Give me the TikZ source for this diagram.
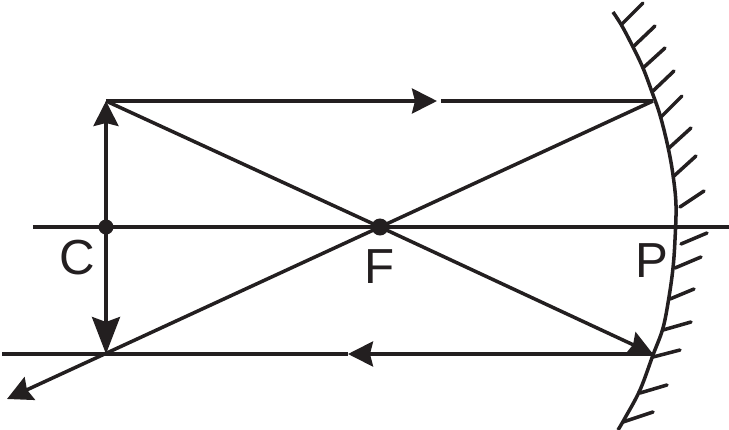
\documentclass[tikz,border=0pt]{standalone}
\usepackage{fontspec}
\setmainfont{Liberation Sans}
\usetikzlibrary{arrows.meta}
\definecolor{inkline}{RGB}{35,31,32}
\tikzset{every path/.style={inkline,line width=1pt},
  tipsmall/.style={-{Stealth[length=0.25cm,width=0.25cm,inset=0.03cm]}},
  tiplong/.style={-{Stealth[length=0.37cm,width=0.28cm,inset=0.05cm]}},
  dotnode/.style={circle,fill=inkline,draw=none,inner sep=0pt,minimum size=#1},
  letter/.style={inner sep=0pt,text=inkline,font=\fontsize{14}{14}\selectfont}}

\begin{document}
\begin{tikzpicture}[x=0.01cm,y=-0.01cm]
   \useasboundingbox (0,0) rectangle (729,430);
   \coordinate (axisl) at (33,227);
   \coordinate (axisr) at (729,227);
   \coordinate (a) at (106,101);
   \coordinate (b) at (106,354);
   \coordinate (r) at (653,101);
   \coordinate (s) at (653,354);
   \coordinate (topmid) at (437,101);
   \coordinate (topnext) at (441,101);
   \coordinate (lowmid) at (348,354);
   \coordinate (lowend) at (2,354);
   \coordinate (out) at (7,399);
   \node[dotnode=0.15cm] (c) at (106,227) {};
   \node[dotnode=0.17cm] (f) at (380,227) {};
   \node[letter] (lc) at (77,258) {C};
   \node[letter] (lf) at (380,267) {F};
   \node[letter] (lp) at (652,261) {P};
   % axis and object
   \draw (axisl) -- (axisr);
   \draw[tipsmall] (c.center) -- (a);
   \draw[tiplong] (c.center) -- (b);
   % rays
   \draw[tipsmall] (a) -- (topmid);
   \draw (topnext) -- (r);
   \draw (a) -- (f.center);
   \draw[tipsmall] (f.center) -- (s);
   \draw (r) -- (f.center);
   \draw[tipsmall] (f.center) -- (out);
   \draw[tipsmall] (s) -- (lowmid);
   \draw (lowmid) -- (lowend);
   % mirror
   \draw plot[smooth,tension=0.6] coordinates {(613,12) (622,26) (633,47) (643,68) (652,92)
     (660,115) (668,147) (673,175) (676,205) (675,240) (673,268) (669,297) (663,328)
     (653,355) (640,390) (625,418) (618,430)};
   \foreach \xa/\ya/\xb/\yb in {622/24/643/3, 634/46/655/26, 643/68/665/48, 653/91/674/71,
     661/117/682/96, 669/148/691/128, 674/176/696/156, 680/207/704/191,
     681/244/707/233, 675/268/701/257, 670/299/694/289, 663/330/691/322,
     653/357/680/350, 640/393/667/385, 623/422/653/412}
     \draw[line cap=round] (\xa,\ya) -- (\xb,\yb);
\end{tikzpicture}
\end{document}
